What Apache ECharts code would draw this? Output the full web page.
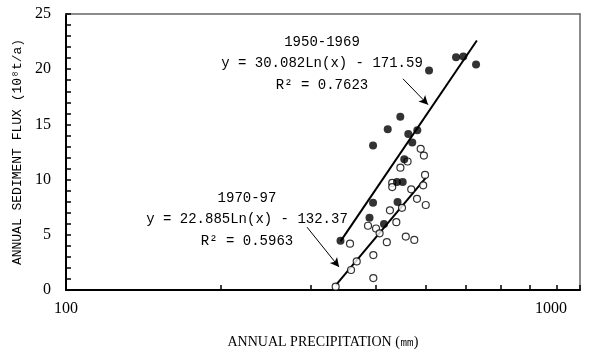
<!DOCTYPE html>
<html><head><meta charset="utf-8">
<script src="https://cdn.jsdelivr.net/npm/echarts@6/dist/echarts.min.js"></script>
<style>html,body{margin:0;padding:0;background:#fff}#c{width:599px;height:354px}</style>
</head><body><div id="c"></div>
<script>
// 1950-1969 (filled circles): [precipitation mm, sediment flux 10^8 t/a]
const filled1950 = [
  [342, 4.47], [389.5, 6.54], [415.6, 5.97], [395.7, 7.90], [441.6, 7.97],
  [440.5, 9.79], [451.9, 9.79], [455.1, 11.85], [471.7, 13.36], [463.4, 14.14],
  [482.5, 14.47], [395.7, 13.09], [422.6, 14.56], [447.1, 15.70], [508.5, 19.88],
  [573.9, 21.09], [592.9, 21.15], [627.7, 20.42]
];
// 1970-97 (open circles)
const open1970 = [
  [489.8, 12.79], [496.9, 12.18], [461.9, 11.64], [447.3, 11.08], [499.5, 10.42],
  [431.2, 9.70], [431.2, 9.32], [495.4, 9.48], [469.5, 9.12], [481.8, 8.26],
  [501.1, 7.70], [450.5, 7.44], [426.8, 7.22], [439.2, 6.14], [386.9, 5.82],
  [401.0, 5.57], [407.5, 5.13], [458.2, 4.84], [476.0, 4.54], [420.9, 4.33],
  [356.9, 4.20], [396.2, 3.16], [367.8, 2.59], [358.5, 1.81], [396.2, 1.08],
  [334.7, 0.30]
];
// trend lines (endpoints)
const trend1950 = [[342, 4.4], [630, 22.6]];
const trend1970 = [[335, 0.45], [502, 10.2]];
// annotation arrows [from, to]
const arrow1950 = [[452.5, 19.13], [506.2, 16.79]];
const arrow1970 = [[294.4, 5.69], [339.8, 2.08]];
// ticks
const xTickValues = [100, 200, 300, 400, 500, 600, 700, 800, 900, 1000];
const xLabelValues = [100, 1000];
const yMin = 0, yMax = 25, yStep = 5, yMinorSplit = 5;
// texts
const label1950 = ['1950-1969', 'y = 30.082Ln(x) - 171.59', 'R\u00b2 = 0.7623'];
const label1970 = ['1970-97', 'y = 22.885Ln(x) - 132.37', 'R\u00b2 = 0.5963'];
const xTitle = 'ANNUAL PRECIPITATION (\u339c)';
const yTitle = 'ANNUAL SEDIMENT FLUX (10\u2078t/a)';

const chart = echarts.init(document.getElementById('c'), null, {renderer: 'canvas'});
const serif = '"Liberation Serif", "DejaVu Serif", serif';
const mono = '"Liberation Mono", "DejaVu Sans Mono", monospace';

function textBlock(lines, cx, ys) {
  return lines.map((t, i) => ({
    type: 'text', x: cx, y: ys[i], silent: true,
    style: {text: t, font: '14px ' + mono, fill: '#000', align: 'center', verticalAlign: 'middle'}
  }));
}

const frameAxis = {
  axisLine: {show: true, onZero: false, lineStyle: {color: '#666', width: 1.5}},
  axisTick: {show: false}, axisLabel: {show: false}, splitLine: {show: false}
};

const option = {
  animation: false,
  backgroundColor: '#fff',
  grid: {left: 66, right: 19, top: 14, bottom: 63},
  xAxis: [{
    type: 'log', logBase: 10, min: 100, max: 1000,
    axisLine: {show: true, onZero: false, lineStyle: {color: '#000', width: 2}},
    axisTick: {show: true, inside: true, length: 5, customValues: xTickValues, lineStyle: {color: '#000', width: 1.5}},
    axisLabel: {
      customValues: xLabelValues, margin: 11, color: '#000', fontFamily: serif, fontSize: 16,
      formatter: v => (v >= 1000 ? '{r|' + v + '}' : String(v)),
      rich: {r: {fontFamily: serif, fontSize: 16, color: '#000', padding: [0, 58, 0, 0]}}
    },
    splitLine: {show: false},
    name: xTitle, nameLocation: 'middle', nameGap: 45,
    nameTextStyle: {color: '#000', fontFamily: serif, fontSize: 14}
  }, Object.assign({type: 'log', logBase: 10, min: 100, max: 1000, position: 'top'}, frameAxis)],
  yAxis: [{
    type: 'value', min: yMin, max: yMax, interval: yStep,
    axisLine: {show: true, onZero: false, lineStyle: {color: '#000', width: 2}},
    axisTick: {show: true, inside: true, length: 5, lineStyle: {color: '#000', width: 1.5}},
    minorTick: {show: true, splitNumber: yMinorSplit, length: 5, lineStyle: {color: '#000', width: 1.5}},
    axisLabel: {margin: 15, color: '#000', fontFamily: serif, fontSize: 16},
    splitLine: {show: false},
    name: yTitle, nameLocation: 'middle', nameGap: 34, nameRotate: 90,
    nameTextStyle: {color: '#000', fontFamily: mono, fontSize: 13}
  }, Object.assign({type: 'value', min: yMin, max: yMax, interval: yStep, position: 'right'}, frameAxis)],
  series: [
    {type: 'line', data: trend1950, showSymbol: false, symbol: 'none', lineStyle: {color: '#000', width: 2}, z: 3,
     markLine: {silent: true, symbol: ['none', 'arrow'], symbolSize: [7, 9], label: {show: false},
       lineStyle: {color: '#000', width: 1, type: 'solid'},
       data: [[{coord: arrow1950[0]}, {coord: arrow1950[1]}]]}},
    {type: 'line', data: trend1970, showSymbol: false, symbol: 'none', lineStyle: {color: '#000', width: 2}, z: 3,
     markLine: {silent: true, symbol: ['none', 'arrow'], symbolSize: [7, 9], label: {show: false},
       lineStyle: {color: '#000', width: 1, type: 'solid'},
       data: [[{coord: arrow1970[0]}, {coord: arrow1970[1]}]]}},
    {type: 'scatter', data: open1970, symbol: 'circle', symbolSize: 7, z: 4,
     itemStyle: {color: '#fff', borderColor: '#000', borderWidth: 1.2}},
    {type: 'scatter', data: filled1950, symbol: 'circle', symbolSize: 8, z: 5,
     itemStyle: {color: '#000'}}
  ],
  graphic: [
    ...textBlock(label1950, 322, [42, 63, 85]),
    ...textBlock(label1970, 247, [198, 219, 241])
  ]
};
chart.setOption(option);
</script>
</body></html>
